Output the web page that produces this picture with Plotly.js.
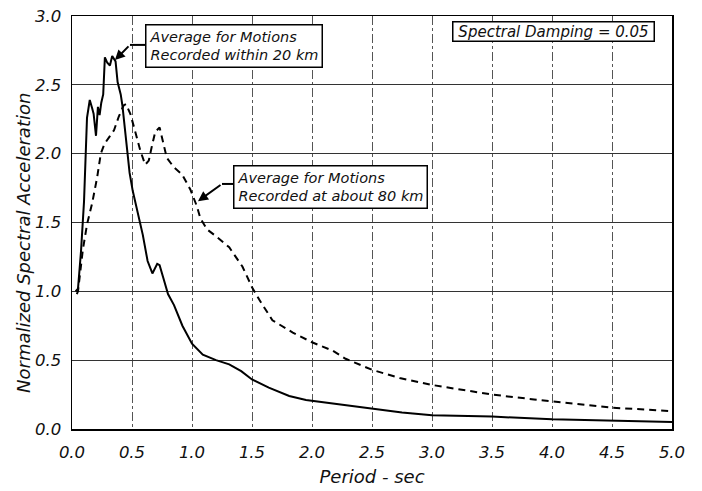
<!DOCTYPE html>
<html>
<head>
<meta charset="utf-8">
<script src="https://cdn.plot.ly/plotly-3.0.1.min.js"></script>
<style>html,body{margin:0;padding:0;background:#fff;}#chart{width:702px;height:491px;}</style>
</head>
<body>
<div id="chart"></div>
<script>
// Average for motions recorded within 20 km (solid)
const period20 = [0.03,0.05,0.075,0.10,0.125,0.148,0.168,0.18,0.20,0.216,0.23,0.244,0.26,0.274,0.294,0.316,0.335,0.363,0.38,0.406,0.42,0.45,0.48,0.506,0.548,0.59,0.63,0.67,0.71,0.73,0.76,0.80,0.85,0.92,1.0,1.09,1.2,1.31,1.41,1.5,1.64,1.81,1.95,2.12,2.3,2.5,2.75,3.0,3.5,4.0,4.5,5.0];
const sa20     = [1.00,1.02,1.29,1.65,2.26,2.39,2.33,2.29,2.13,2.34,2.28,2.37,2.43,2.70,2.66,2.64,2.71,2.67,2.52,2.43,2.35,2.10,1.86,1.73,1.57,1.41,1.22,1.13,1.20,1.19,1.10,0.98,0.90,0.75,0.62,0.54,0.50,0.47,0.42,0.36,0.30,0.24,0.21,0.19,0.17,0.145,0.12,0.10,0.09,0.07,0.06,0.05];
// Average for motions recorded at about 80 km (dashed)
const period80 = [0.04,0.05,0.09,0.126,0.168,0.21,0.24,0.27,0.31,0.35,0.39,0.43,0.45,0.486,0.53,0.57,0.61,0.64,0.667,0.694,0.73,0.764,0.79,0.85,0.917,0.986,1.04,1.07,1.125,1.2,1.31,1.42,1.5,1.56,1.67,1.84,2.0,2.17,2.28,2.5,2.73,3.0,3.29,3.5,3.85,4.0,4.5,5.0];
const sa80     = [0.98,1.00,1.30,1.49,1.64,1.83,2.00,2.07,2.12,2.17,2.27,2.35,2.36,2.29,2.15,2.02,1.92,1.95,2.06,2.16,2.19,2.06,1.97,1.90,1.85,1.74,1.62,1.53,1.45,1.40,1.32,1.18,1.03,0.94,0.79,0.70,0.63,0.57,0.51,0.43,0.37,0.32,0.28,0.25,0.215,0.20,0.155,0.13];

const xTickVals = [0,0.5,1,1.5,2,2.5,3,3.5,4,4.5,5];
const xTickText = ['0.0','0.5','1.0','1.5','2.0','2.5','3.0','3.5','4.0','4.5','5.0'];
const yTickVals = [0,0.5,1,1.5,2,2.5,3];
const yTickText = ['0.0','0.5','1.0','1.5','2.0','2.5','3.0'];

const xTitle = 'Period - sec';
const yTitle = 'Normalized Spectral Acceleration';
const label20 = 'Average for Motions<br>Recorded within 20 km';
const label80 = 'Average for Motions<br>Recorded at about 80 km';
const labelDamping = 'Spectral Damping = 0.05';

const FONT = 'DejaVu Sans, Verdana, sans-serif';

const traces = [
  {x: period80, y: sa80, mode: 'lines', line: {color: '#000', width: 2, dash: '7px,5px'}, hoverinfo: 'skip'},
  {x: period20, y: sa20, mode: 'lines', line: {color: '#000', width: 2}, hoverinfo: 'skip'}
];

const layout = {
  width: 702, height: 491,
  margin: {l: 72, r: 30, t: 16, b: 62},
  paper_bgcolor: '#fff', plot_bgcolor: '#fff',
  showlegend: false,
  font: {family: FONT, style: 'italic', color: '#111', size: 14},
  xaxis: {
    range: [0, 5], tickvals: xTickVals, ticktext: xTickText,
    showgrid: true, gridcolor: '#555', gridwidth: 1, griddash: 'dashdot',
    showline: true, mirror: true, linecolor: '#000', linewidth: 1.5,
    zeroline: false, ticks: '', ticklabelstandoff: 8,
    tickfont: {family: FONT, style: 'italic', size: 16.5, color: '#111'},
    title: {text: xTitle, font: {family: FONT, style: 'italic', size: 18, color: '#111'}, standoff: 9}
  },
  yaxis: {
    range: [0, 3], tickvals: yTickVals, ticktext: yTickText,
    showgrid: true, gridcolor: '#333', gridwidth: 1.2,
    showline: true, mirror: true, linecolor: '#000', linewidth: 1.5,
    zeroline: false, ticks: '', ticklabelstandoff: 6,
    tickfont: {family: FONT, style: 'italic', size: 16.5, color: '#111'}
  },
  shapes: [
    {type: 'line', xref: 'x', yref: 'y', x0: 0.483, y0: 2.79, x1: 0.61, y1: 2.79, line: {color: '#000', width: 2}},
    {type: 'line', xref: 'x', yref: 'y', x0: 1.25, y0: 1.78, x1: 1.345, y1: 1.78, line: {color: '#000', width: 2}}
  ],
  annotations: [
    {xref: 'paper', yref: 'paper', x: -0.082, y: 0.45, xanchor: 'center', yanchor: 'middle', textangle: -90,
     text: yTitle, showarrow: false, font: {family: FONT, style: 'italic', size: 18, color: '#111'}},
    {xref: 'x', yref: 'y', x: 0.608, y: 2.94, xanchor: 'left', yanchor: 'top', text: label20, align: 'left',
     showarrow: false, font: {family: FONT, style: 'italic', size: 14.5, color: '#111'},
     bordercolor: '#000', borderwidth: 1.5, borderpad: 3, bgcolor: '#fff'},
    {xref: 'x', yref: 'y', x: 1.342, y: 1.917, xanchor: 'left', yanchor: 'top', text: label80, align: 'left',
     showarrow: false, font: {family: FONT, style: 'italic', size: 14.5, color: '#111'},
     bordercolor: '#000', borderwidth: 1.5, borderpad: 3, bgcolor: '#fff'},
    {xref: 'x', yref: 'y', x: 3.17, y: 2.965, xanchor: 'left', yanchor: 'top', text: labelDamping, align: 'center',
     width: 200, showarrow: false, font: {family: FONT, style: 'italic', size: 15, color: '#111'},
     bordercolor: '#000', borderwidth: 1.5, borderpad: 0, bgcolor: '#fff'},
    {xref: 'x', yref: 'y', x: 0.358, y: 2.68, axref: 'x', ayref: 'y', ax: 0.483, ay: 2.79, text: '',
     showarrow: true, arrowhead: 2, arrowsize: 1, arrowwidth: 2, arrowcolor: '#000', standoff: 0, startstandoff: 0},
    {xref: 'x', yref: 'y', x: 1.05, y: 1.655, axref: 'x', ayref: 'y', ax: 1.25, ay: 1.78, text: '',
     showarrow: true, arrowhead: 2, arrowsize: 1, arrowwidth: 2, arrowcolor: '#000', standoff: 0, startstandoff: 0}
  ]
};

Plotly.newPlot('chart', traces, layout, {displayModeBar: false, staticPlot: true});
</script>
</body>
</html>
